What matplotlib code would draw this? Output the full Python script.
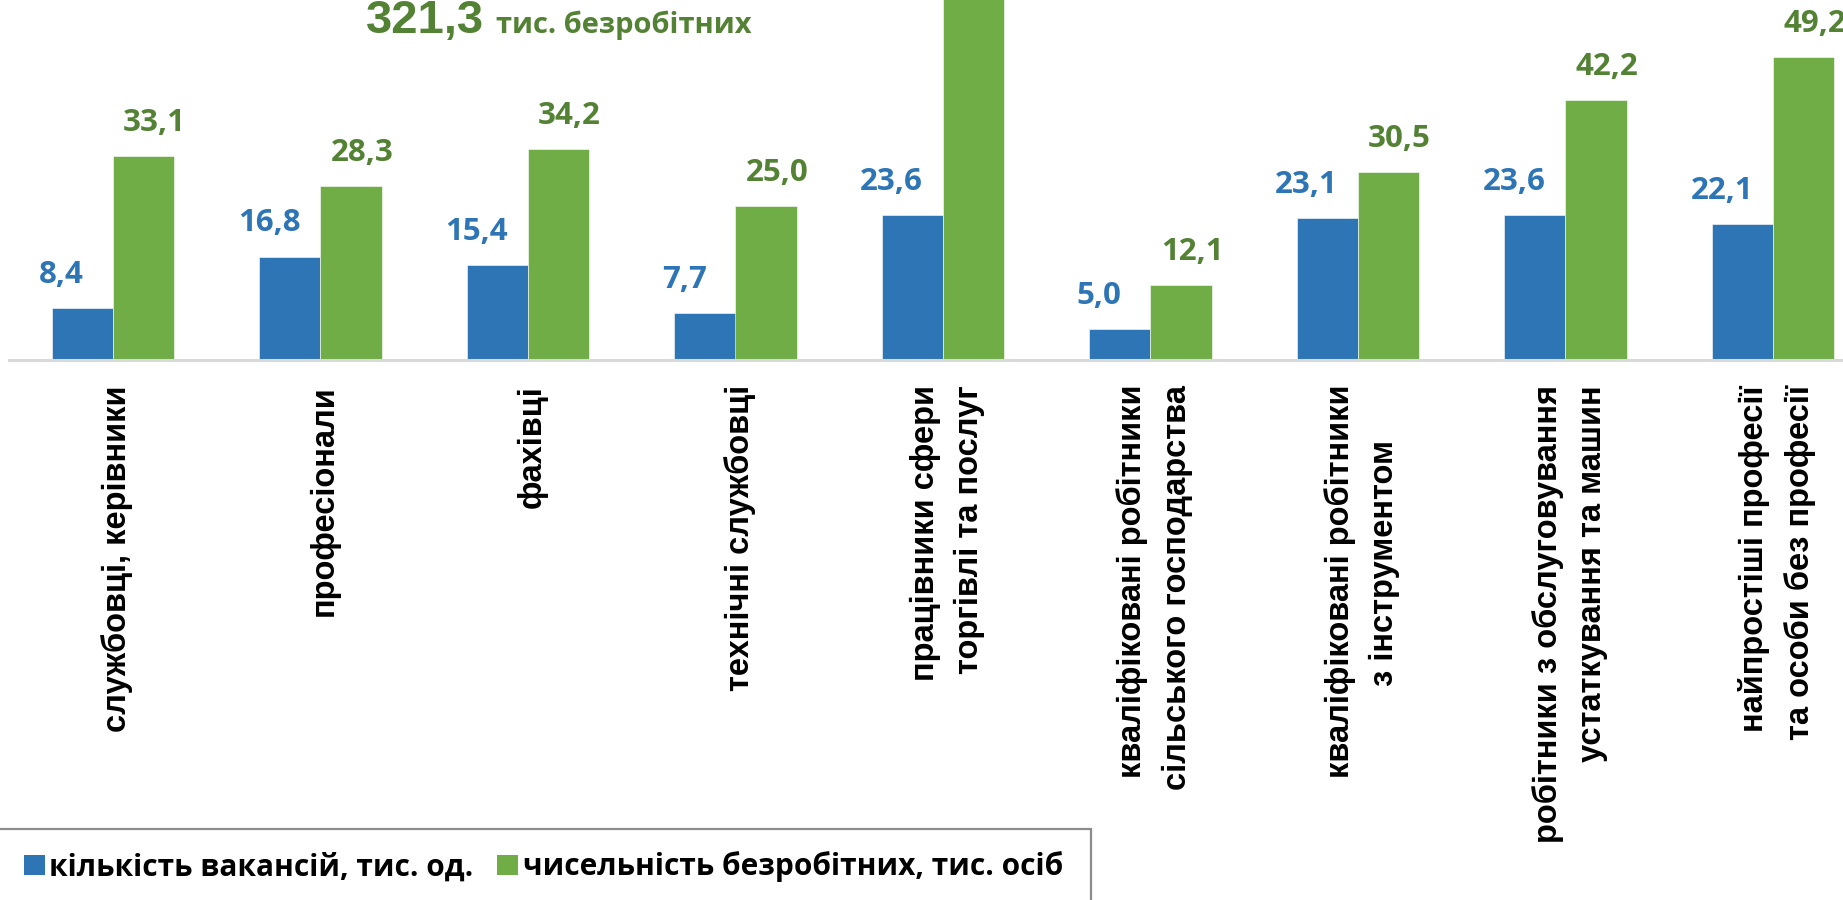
import matplotlib
matplotlib.use("Agg")
import matplotlib.pyplot as plt
from matplotlib.patches import Rectangle, Patch

# categories (occupational groups)
categories = [
    "службовці, керівники",
    "професіонали",
    "фахівці",
    "технічні службовці",
    "працівники сфери\nторгівлі та послуг",
    "кваліфіковані робітники\nсільського господарства",
    "кваліфіковані робітники\nз інструментом      ",
    "робітники з обслуговування\nустаткування та машин",
    "найпростіші професії\nта особи без професії",
]
vacancies = [8.4, 16.8, 15.4, 7.7, 23.6, 5.0, 23.1, 23.6, 22.1]
unemployed = [33.1, 28.3, 34.2, 25.0, 66.7, 12.1, 30.5, 42.2, 49.2]
total_unemployed = "321,3"

series_names = ["кількість вакансій, тис. од.", "чисельність безробітних, тис. осіб"]

BLUE = "#2E75B6"
GREEN = "#70AD47"
BLUE_TXT = "#2E75B6"
GREEN_TXT = "#548235"

LABEL_FONT = ["Open Sans", "DejaVu Sans"]
CAT_FONT = ["Liberation Sans", "DejaVu Sans"]

W, H = 1843, 900
fig = plt.figure(figsize=(W / 100, H / 100), dpi=100)

# axes: baseline at y=360px, categories spaced 207.5px, first centre at 113px
step = 207.5
left = (113 - step / 2) / W
ax = fig.add_axes([left, 1 - 360 / H, 9 * step / W, 360 / H])

x = list(range(len(categories)))
bw = 0.294
ax.bar([i - bw / 2 for i in x], vacancies, width=bw, color=BLUE, edgecolor="white", linewidth=0.4)
ax.bar([i + bw / 2 for i in x], unemployed, width=bw, color=GREEN, edgecolor="white", linewidth=0.4)

ax.set_xlim(-0.5, 8.5)
ax.set_ylim(0, 360 / 6.16)
ax.set_yticks([])
ax.set_xticks([])
for s in ["top", "left", "right"]:
    ax.spines[s].set_visible(False)
ax.spines["bottom"].set_color("#D9D9D9")
ax.spines["bottom"].set_linewidth(2.2)

ymax = ax.get_ylim()[1]

def fmt(v):
    return f"{v:.1f}".replace(".", ",")

for i in x:
    ax.annotate(fmt(vacancies[i]), (i - bw / 2, vacancies[i]), xytext=(-15, 13),
                textcoords="offset points", ha="center", va="bottom",
                fontsize=22.5, fontweight="bold", color=BLUE_TXT, family=LABEL_FONT)
    if unemployed[i] < ymax - 8:
        ax.annotate(fmt(unemployed[i]), (i + bw / 2, unemployed[i]), xytext=(8, 13),
                    textcoords="offset points", ha="center", va="bottom",
                    fontsize=22.5, fontweight="bold", color=GREEN_TXT, family=LABEL_FONT)

for i, name in enumerate(categories):
    ax.annotate(name, (i + 0.02, 0), xycoords=("data", "axes fraction"),
                xytext=(0, -18), textcoords="offset points",
                rotation=90, ha="center", va="top", multialignment="right",
                fontsize=23.5, fontweight="bold", color="black", family=CAT_FONT,
                linespacing=1.55, annotation_clip=False)

# title-like annotation
fig.text(366 / W, 1 - 33 / H, total_unemployed, fontsize=34, fontweight="bold",
         color=GREEN_TXT, family=CAT_FONT, va="baseline", ha="left")
fig.text(496 / W, 1 - 33 / H, "тис. безробітних", fontsize=21, fontweight="bold",
         color=GREEN_TXT, family=LABEL_FONT, va="baseline", ha="left")

# legend box
fig.patches.append(Rectangle((-10 / W, -20 / H), 1101 / W, (900 - 829 + 20) / H,
                             transform=fig.transFigure, fill=False,
                             edgecolor="#8C8C8C", linewidth=1.6))
handles = [Patch(facecolor=BLUE, label=series_names[0]),
           Patch(facecolor=GREEN, label=series_names[1])]
fig.legend(handles=handles, loc="center left", bbox_to_anchor=(0 / W, 1 - 867 / H),
           ncol=2, frameon=False, handlelength=0.7, handleheight=0.7,
           handletextpad=0.15, columnspacing=0.8, borderpad=0.3,
           prop={"family": LABEL_FONT, "weight": "bold", "size": 21.5})

fig.savefig("out.png", dpi=100)
